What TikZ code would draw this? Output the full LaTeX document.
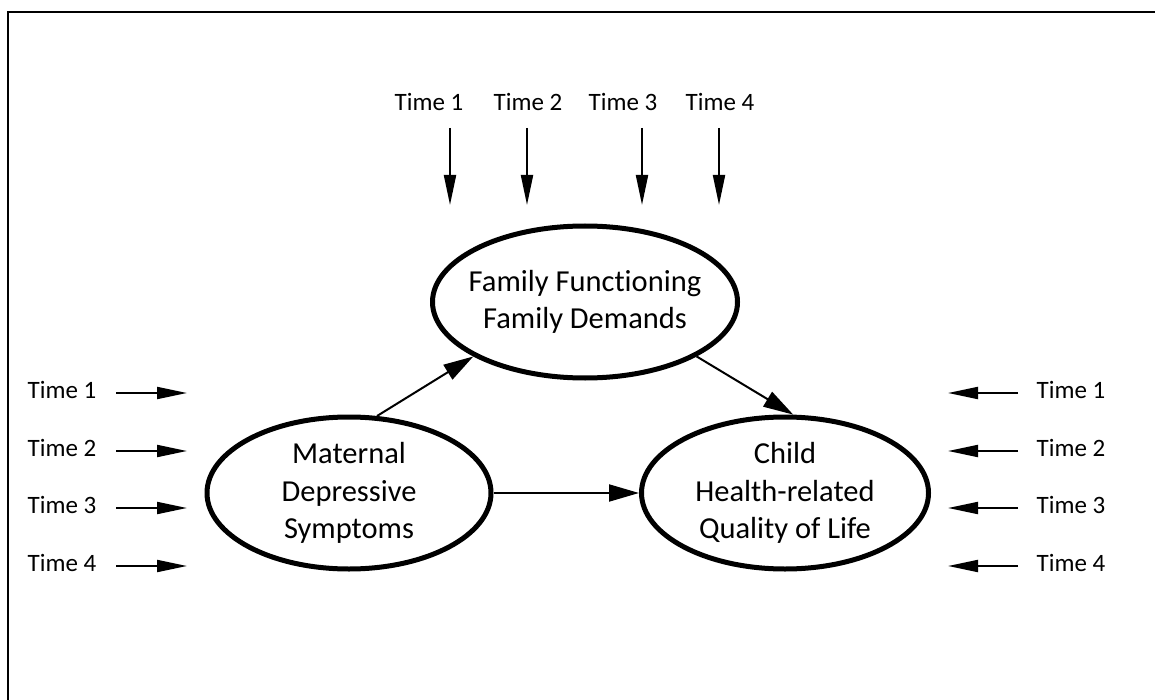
\documentclass[tikz,border=0pt]{standalone}
\usepackage{fontspec}
\setmainfont{Carlito}[Ligatures=NoCommon]
\usetikzlibrary{arrows.meta,shapes.geometric}
\tikzset{
  factor/.style={draw, ellipse, line width=5pt, inner sep=0pt, minimum height=152pt},
  factortext/.style={align=center, inner sep=0pt, font=\fontsize{30.5}{37.5}\selectfont},
  timelabel/.style={inner sep=0pt, font=\fontsize{25}{30}\selectfont},
  timearrow/.style={line width=2pt, -{Triangle[length=30pt,width=12pt]}},
  link/.style={line width=2pt, -{Triangle[length=30pt,width=17pt]}}
}
\begin{document}
\begin{tikzpicture}[x=1pt,y=-1pt]
\useasboundingbox (0,0) rectangle (1155,700);
\draw[line width=2.5pt] (8,700) |- (1155,12);
% latent factors
\node[factor, minimum width=305pt] (fam) at (585,302) {};
\node[factortext] (famtext) at (fam) {Family Functioning\\Family Demands};
\node[factor, minimum width=284pt] (mat) at (349,493) {};
\node[factortext] (mattext) at (mat) {Maternal\\Depressive\\Symptoms};
\node[factor, minimum width=287pt] (chi) at (785,493) {};
\node[factortext] (chitext) at (chi) {Child\\Health-related\\Quality of Life};
\draw[link] (mat.70) -- (fam.206);
\draw[link] (fam.334) -- (chi.84);
\draw[link] (mat.east) -- (chi.west);
% time points
\foreach \t/\lx/\ax in {1/429/450, 2/528/527, 3/623/642, 4/720/719} {
  \node[timelabel] (top\t) at (\lx,102) {Time \t};
  \coordinate (topa\t) at (\ax,128);
  \coordinate (topb\t) at (\ax,205);
  \draw[timearrow] (topa\t) -- (topb\t);
}
\foreach \t/\y in {1/390, 2/448, 3/505, 4/563} {
  \node[timelabel] (left\t) at (62,\y) {Time \t};
  \coordinate (lefta\t) at (116,\y+3);
  \coordinate (leftb\t) at (187,\y+3);
  \draw[timearrow] (lefta\t) -- (leftb\t);
  \node[timelabel] (right\t) at (1071,\y) {Time \t};
  \coordinate (righta\t) at (1018,\y+3);
  \coordinate (rightb\t) at (948,\y+3);
  \draw[timearrow] (righta\t) -- (rightb\t);
}
\end{tikzpicture}
\end{document}
